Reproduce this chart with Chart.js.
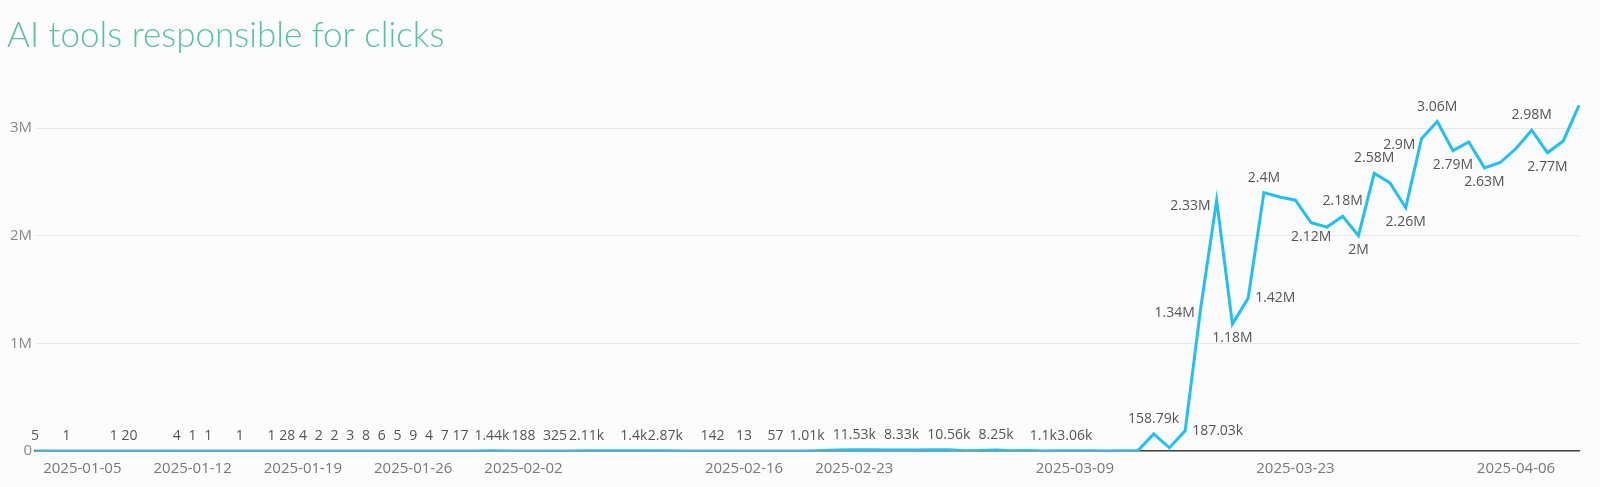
<!DOCTYPE html>
<html>
<head>
<meta charset="utf-8">
<style>
  html, body { margin: 0; padding: 0; background: #fcfcfc; }
  #wrap { width: 1600px; height: 487px; }
</style>
<script src="https://cdn.jsdelivr.net/npm/chart.js@4.4.1/dist/chart.umd.min.js"></script>
</head>
<body>
<div id="wrap"><canvas id="clicksChart"></canvas></div>
<script>
// data block
const dates = [
  '2025-01-02', '2025-01-03', '2025-01-04', '2025-01-05', '2025-01-06', '2025-01-07', '2025-01-08',
  '2025-01-09', '2025-01-10', '2025-01-11', '2025-01-12', '2025-01-13', '2025-01-14', '2025-01-15',
  '2025-01-16', '2025-01-17', '2025-01-18', '2025-01-19', '2025-01-20', '2025-01-21', '2025-01-22',
  '2025-01-23', '2025-01-24', '2025-01-25', '2025-01-26', '2025-01-27', '2025-01-28', '2025-01-29',
  '2025-01-30', '2025-01-31', '2025-02-01', '2025-02-02', '2025-02-03', '2025-02-04', '2025-02-05',
  '2025-02-06', '2025-02-07', '2025-02-08', '2025-02-09', '2025-02-10', '2025-02-11', '2025-02-12',
  '2025-02-13', '2025-02-14', '2025-02-15', '2025-02-16', '2025-02-17', '2025-02-18', '2025-02-19',
  '2025-02-20', '2025-02-21', '2025-02-22', '2025-02-23', '2025-02-24', '2025-02-25', '2025-02-26',
  '2025-02-27', '2025-02-28', '2025-03-01', '2025-03-02', '2025-03-03', '2025-03-04', '2025-03-05',
  '2025-03-06', '2025-03-07', '2025-03-08', '2025-03-09', '2025-03-10', '2025-03-11', '2025-03-12',
  '2025-03-13', '2025-03-14', '2025-03-15', '2025-03-16', '2025-03-17', '2025-03-18', '2025-03-19',
  '2025-03-20', '2025-03-21', '2025-03-22', '2025-03-23', '2025-03-24', '2025-03-25', '2025-03-26',
  '2025-03-27', '2025-03-28', '2025-03-29', '2025-03-30', '2025-03-31', '2025-04-01', '2025-04-02',
  '2025-04-03', '2025-04-04', '2025-04-05', '2025-04-06', '2025-04-07', '2025-04-08', '2025-04-09',
  '2025-04-10',
];

// clicks per day (null = no data that day)
const clicks = [
  5, null, 1, null, null, 1, 20,
  null, null, 4, 1, 1, null, 1,
  null, 1, 28, 4, 2, 2, 3,
  8, 6, 5, 9, 4, 7, 17,
  640, 1440, 410, 188, 260, 325, 900,
  2110, 1700, 1200, 1400, 1900, 2870, 800,
  300, 142, 60, 13, 30, 57, 400,
  1010, 4200, 9000, 11530, 10800, 9500, 8330,
  9700, 10900, 10560, 3000, 5500, 8250, 2500,
  4800, 1100, 2000, 3060, 1500, 900, 1200,
  2500, 158790, 30000, 187030, 1340000, 2330000, 1180000,
  1420000, 2400000, 2360000, 2330000, 2120000, 2080000, 2180000,
  2000000, 2580000, 2490000, 2260000, 2900000, 3060000, 2790000,
  2870000, 2630000, 2680000, 2810000, 2980000, 2770000, 2880000,
  3210000,
];

// points that carry a value label
const labelIdx = [
  0, 2, 5, 6, 9, 10, 11, 13, 15, 16, 17, 18, 19, 20, 21, 22, 23, 24, 25, 26, 27,
  29, 31, 33, 35, 38, 40, 43, 45, 47, 49, 52, 55, 58, 61, 64, 66,
  71, 73, 74, 75, 76, 77, 78, 81, 83, 84, 85, 87, 88, 89, 90, 92, 95, 96,
];

const xTickLabels = [
  '2025-01-05', '2025-01-12', '2025-01-19', '2025-01-26', '2025-02-02',
  '2025-02-16', '2025-02-23', '2025-03-09', '2025-03-23', '2025-04-06',
];
const yTicks = [0, 1000000, 2000000, 3000000];

// label placement (default is above the point)
const labelSide = {
  73: 'right', 74: 'left', 75: 'left', 76: 'below', 77: 'right',
  81: 'below', 84: 'below', 87: 'below', 88: 'left',
  90: 'below', 92: 'below', 96: 'below',
};

function fmt(v) {
  if (v >= 1e6) return +(v / 1e6).toFixed(2) + 'M';
  if (v >= 1e3) return +(v / 1e3).toFixed(2) + 'k';
  return String(v);
}

// draws the value labels next to the points
const valueLabels = {
  id: 'valueLabels',
  afterDatasetsDraw(chart) {
    const { ctx } = chart;
    const meta = chart.getDatasetMeta(0);
    ctx.save();
    ctx.font = '14px "Open Sans"';
    ctx.fillStyle = '#555555';
    labelIdx.forEach((i) => {
      const pt = meta.data[i];
      const text = fmt(clicks[i]);
      const side = labelSide[i] || 'above';
      ctx.textBaseline = 'middle';
      if (side === 'above') {
        ctx.textAlign = 'center';
        ctx.fillText(text, pt.x, pt.y - 15);
      } else if (side === 'below') {
        ctx.textAlign = 'center';
        ctx.fillText(text, pt.x, pt.y + 14);
      } else if (side === 'left') {
        ctx.textAlign = 'right';
        ctx.fillText(text, pt.x - 6, pt.y + 6);
      } else {
        ctx.textAlign = 'left';
        ctx.fillText(text, pt.x + 7, pt.y);
      }
    });
    ctx.restore();
  },
};

// config block
const config = {
  type: 'line',
  data: {
    labels: dates,
    datasets: [
      {
        label: 'Clicks',
        data: clicks,
        borderColor: '#22c0f2',
        backgroundColor: '#22c0f2',
        borderWidth: 3,
        pointRadius: 0,
        tension: 0,
        spanGaps: true,
      },
    ],
  },
  options: {
    responsive: true,
    maintainAspectRatio: false,
    animation: false,
    layout: { padding: { left: 7, right: 21, bottom: 0 } },
    plugins: {
      legend: { display: false },
      tooltip: { enabled: false },
      title: {
        display: true,
        text: 'AI tools responsible for clicks',
        align: 'start',
        color: '#56c2a3',
        font: { family: 'Lato', size: 35, weight: '300' },
        padding: { top: 15, bottom: 28 },
      },
    },
    scales: {
      x: {
        grid: { display: false, drawTicks: false },
        border: { display: true, color: '#444444', width: 1.5 },
        ticks: {
          autoSkip: false,
          maxRotation: 0,
          minRotation: 0,
          padding: 9,
          color: '#777777',
          font: { family: 'Open Sans', size: 15 },
          callback: function (value) {
            const d = this.getLabelForValue(value);
            return xTickLabels.includes(d) ? d : '';
          },
        },
      },
      y: {
        min: 0,
        max: 3400000,
        afterBuildTicks: (axis) => {
          axis.ticks = yTicks.map((v) => ({ value: v }));
        },
        grid: { color: '#e8e8e8', drawTicks: false },
        border: { display: false },
        ticks: {
          padding: 3,
          color: '#888888',
          font: { family: 'Open Sans', size: 15 },
          callback: (v) => (v === 0 ? '0' : v / 1e6 + 'M'),
        },
      },
    },
  },
  plugins: [valueLabels],
};

// render block
const clicksChart = new Chart(document.getElementById('clicksChart'), config);
</script>
</body>
</html>
